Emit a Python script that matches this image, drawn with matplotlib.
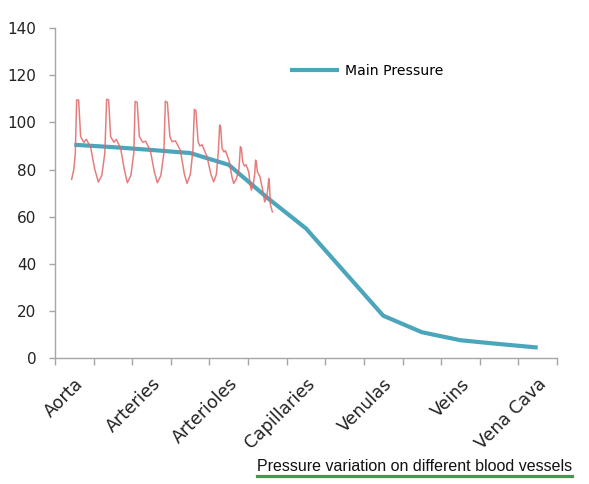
import matplotlib
matplotlib.use('Agg')
import matplotlib.pyplot as plt

# blood vessels along the x axis (13 categories, every other one labelled)
vessels = ['Aorta', '', 'Arteries', '', 'Arterioles', '', 'Capillaries', '',
           'Venulas', '', 'Veins', '', 'Vena Cava']
# mean pressure (mmHg) at each category
main_pressure = [90.5, 89.5, 88.3, 87.0, 82.0, 68.0, 55.0, 36.5, 18.0, 11.0, 7.6, 6.0, 4.5]

# pulsatile pressure trace, x in category units
pulse_x = [-0.070, -0.013, 0.026, 0.060, 0.111, 0.163, 0.246, 0.311, 0.422, 0.531, 0.622, 0.712,
           0.790, 0.837, 0.889, 0.940, 1.023, 1.088, 1.199, 1.295, 1.373, 1.464,
           1.541, 1.575, 1.627, 1.684, 1.769, 1.847, 1.969, 2.073, 2.150, 2.241,
           2.319, 2.358, 2.409, 2.474, 2.531, 2.617, 2.746, 2.850, 2.920, 3.005,
           3.070, 3.109, 3.148, 3.205, 3.251, 3.308, 3.438, 3.536, 3.609, 3.679,
           3.731, 3.764, 3.790, 3.826, 3.873, 3.912, 4.016, 4.080, 4.127, 4.197,
           4.262, 4.301, 4.326, 4.360, 4.404, 4.448, 4.516, 4.560, 4.585, 4.637,
           4.671, 4.694, 4.715, 4.741, 4.806, 4.870, 4.930, 4.974,
           5.013, 5.034, 5.052, 5.078, 5.130]
pulse_y = [75.8, 80.0, 87.0, 109.5, 109.5, 94.0, 91.5, 92.8, 89.5, 80.0, 74.7, 77.5,
           87.0, 109.8, 109.5, 94.0, 91.6, 92.8, 89.0, 80.0, 74.4, 77.5,
           87.0, 108.9, 108.5, 94.0, 91.6, 92.0, 88.0, 79.0, 74.4, 77.5,
           87.0, 109.0, 108.5, 94.0, 91.8, 92.2, 88.2, 78.0, 74.1, 78.0,
           88.0, 105.5, 105.0, 91.8, 90.0, 90.5, 85.4, 78.0, 74.8, 78.0,
           88.0, 98.9, 98.0, 89.0, 87.5, 88.0, 83.3, 77.0, 74.1, 76.0,
           80.0, 89.7, 89.0, 83.3, 81.5, 82.0, 79.0, 73.0, 71.3, 74.0,
           78.0, 84.0, 83.0, 79.0, 77.0, 72.0, 66.3, 68.0,
           72.0, 76.2, 74.0, 65.0, 62.0]

y_ticks = [0, 20, 40, 60, 80, 100, 120, 140]

fig = plt.figure(figsize=(5.89, 4.84), dpi=100)
ax = fig.add_axes([0.0934, 0.260, 0.8523, 0.682])

ax.plot(range(len(main_pressure)), main_pressure, color='#4BA6BC', lw=3,
        solid_capstyle='butt', label='Main Pressure', zorder=2)
ax.plot(pulse_x, pulse_y, color='#e06868', lw=1.1, alpha=0.85, zorder=3)

ax.set_xlim(-0.5, len(vessels) - 0.5)
ax.set_ylim(0, 140)
ax.set_yticks(y_ticks)

# tick marks between categories, labels at category centres
ax.set_xticks([i - 0.5 for i in range(len(vessels) + 1)])
ax.set_xticklabels([])
lab_pos = [i for i, v in enumerate(vessels) if v]
ax.set_xticks(lab_pos, [v for v in vessels if v], minor=True)
ax.tick_params(axis='x', which='minor', length=0, pad=12, labelsize=12.5, labelcolor='#222222')
ax.tick_params(axis='x', which='major', length=5, width=1, color='#a6a6a6')
ax.tick_params(axis='y', length=4.5, width=1, color='#a6a6a6', pad=9, labelsize=11,
               labelcolor='#222222')
for lab in ax.get_xticklabels(minor=True):
    lab.set_rotation(45)
    lab.set_ha('right')
    lab.set_va('top')
    lab.set_rotation_mode('anchor')

for s in ['top', 'right']:
    ax.spines[s].set_visible(False)
for s in ['left', 'bottom']:
    ax.spines[s].set_color('#a6a6a6')
    ax.spines[s].set_linewidth(1)

ax.legend(loc='center left', bbox_to_anchor=(290 / 589, 1 - 71 / 484),
          bbox_transform=fig.transFigure, frameon=False, borderpad=0, borderaxespad=0,
          handlelength=3.5, handletextpad=0.45, fontsize=10.1)

fig.text(257 / 589, 1 - 471 / 484, 'Pressure variation on different blood vessels',
         fontsize=11.5, family=['Liberation Sans', 'DejaVu Sans'],
         ha='left', va='baseline', color='#111111')
fig.add_artist(plt.Line2D([257 / 589, 572 / 589], [1 - 475.5 / 484] * 2,
                          color='#3c9c50', lw=2.3, transform=fig.transFigure))

fig.savefig('out.png', dpi=100, facecolor='white')
